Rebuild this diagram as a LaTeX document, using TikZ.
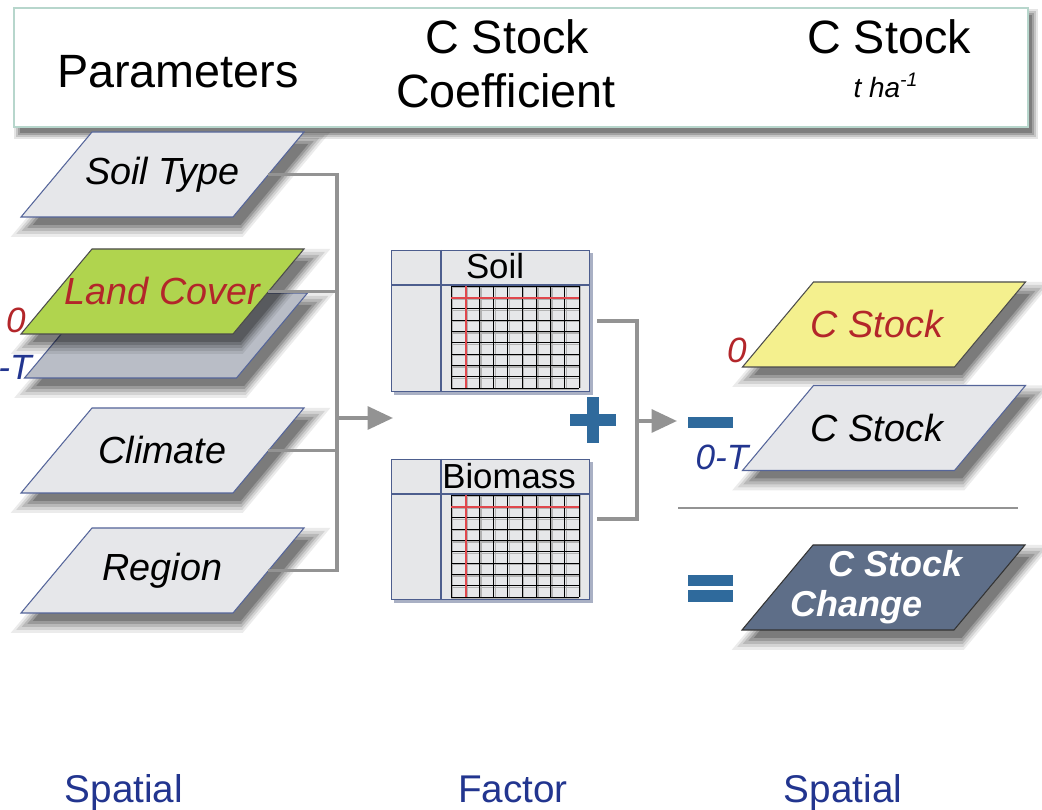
\documentclass[tikz,border=0pt]{standalone}
\usepackage{fontspec}
\setmainfont{Liberation Sans}
\usetikzlibrary{arrows.meta}

\definecolor{hdrborder}{HTML}{B7D6CC}
\definecolor{conngray}{HTML}{939393}
\definecolor{slabgray}{HTML}{E6E7EA}
\definecolor{slabedge}{HTML}{55659A}
\definecolor{backgray}{HTML}{B9BDC6}
\definecolor{landgreen}{HTML}{B0D44E}
\definecolor{paleyellow}{HTML}{F4F08E}
\definecolor{slate}{HTML}{5E6E88}
\definecolor{textred}{HTML}{B3262A}
\definecolor{textblue}{HTML}{22358F}
\definecolor{signblue}{HTML}{2F6A9C}
\definecolor{tabfill}{HTML}{E6E7E9}
\definecolor{tabedge}{HTML}{4D5E8E}
\definecolor{tabshade}{HTML}{A9B0C4}
\definecolor{gridred}{HTML}{E0474C}

\tikzset{
  conn/.style={draw=conngray, line width=2.2pt},
  tip/.style={-{Triangle[length=14.5pt,width=13pt]}},
  slabtext/.style={minimum width=120.2pt, minimum height=48.2pt, inner sep=0pt,
      font=\fontsize{21.5}{24}\selectfont\itshape},
  greyslab/.style={fill=slabgray, draw=slabedge, line width=0.6pt},
  hdr/.style={font=\fontsize{26.6}{31}\selectfont, inner sep=0pt, anchor=base},
  foot/.style={font=\fontsize{22}{26}\selectfont, text=textblue, inner sep=0pt, anchor=base},
  tag/.style={font=\fontsize{20}{24}\selectfont\itshape, inner sep=0pt},
  tabbox/.style={draw=tabedge, fill=tabfill, line width=0.7pt, minimum width=112.8pt,
      inner sep=0pt},
  tabline/.style={draw=tabedge, line width=0.7pt},
  tabhead/.style={font=\fontsize{19.8}{22}\selectfont, inner sep=0pt},
  gridsh/.style={draw=black!30, line width=0.8pt},
  gridln/.style={draw=black, line width=0.55pt},
  gridrl/.style={draw=gridred, line width=1.1pt},
  sign/.style={fill=signblue}
}

% soft drop shadow under a parallelogram centred at (#1,#2)
\newcommand\pshadow[2]{%
  \foreach \d/\op in {10/0.08,7/0.10,4/0.13,1/0.16,-2/0.20}{
    \pgfmathsetmacro\hw{106+\d}%
    \pgfmathsetmacro\hh{42.5+\d}%
    \pgfmathsetmacro\hs{35.5*(42.5+\d)/42.5}%
    \fill[black, opacity=\op] ({#1+8-\hw+\hs},{#2+10-\hh}) -- ({#1+8+\hw+\hs},{#2+10-\hh})
      -- ({#1+8+\hw-\hs},{#2+10+\hh}) -- ({#1+8-\hw-\hs},{#2+10+\hh}) -- cycle;}}

% one parallelogram layer: name, centre x, centre y, shape style, text style, text
\newcommand\slab[6]{%
  \pshadow{#2}{#3}
  \path[#4] (#2-70.5,#3-42.5) -- (#2+141.5,#3-42.5) -- (#2+70.5,#3+42.5)
    -- (#2-141.5,#3+42.5) -- cycle;
  \node[slabtext,#5] (#1) at (#2,#3) {#6};}

% cell raster inside a coefficient table, top edge at y = #1
\newcommand\cellgrid[1]{%
  \foreach \i in {0,...,9}{
    \draw[gridsh] ({451+\i*14.222+1.6},#1) -- ({451+\i*14.222+1.6},#1+102);
    \draw[gridsh] (451,{#1+\i*11.333+1.6}) -- (579,{#1+\i*11.333+1.6});}
  \foreach \i in {0,...,9}{
    \draw[gridln] ({451+\i*14.222},#1) -- ++(0,102);
    \draw[gridln] (451,{#1+\i*11.333}) -- ++(128,0);}
  \draw[gridrl] (466,#1) -- ++(0,102);
  \draw[gridrl] (451,#1+11.8) -- ++(128,0);}

\begin{document}
\begin{tikzpicture}[x=0.02cm, y=-0.02cm]
\useasboundingbox (0,0) rectangle (1042,810);
\clip (0,0) rectangle (1042,810);

% header band with its shadow
\foreach \d/\op in {5/0.10,3/0.14,1/0.18,-1/0.22}{
  \fill[black, opacity=\op] (19-\d,14-\d) rectangle (1033+\d,134+\d);}
\path[fill=white, draw=hdrborder, line width=1.2pt] (14,8) rectangle (1028,127);
\node[hdr] (hpar) at (178,88) {Parameters};
\node[hdr] (hcs) at (507,54) {C Stock};
\node[hdr] (hcoef) at (506,108) {Coefficient};
\node[hdr] (hcs2) at (889,54) {C Stock};
\node[font=\fontsize{15.9}{18}\selectfont\itshape, inner sep=0pt, anchor=base]
  (hunit) at (886,98) {t ha\textsuperscript{-1}};

% input parameter layers (the grey sheet is the later land cover state)
\pshadow{166}{335.5}
\path[fill=backgray, draw=slabedge, line width=0.6pt]
  (166-70.5,335.5-42.5) -- (166+141.5,335.5-42.5) -- (166+70.5,335.5+42.5)
  -- (166-141.5,335.5+42.5) -- cycle;
\slab{st}{162.5}{174.5}{greyslab}{}{Soil Type}
\slab{lc}{162.5}{291.5}{fill=landgreen, draw=black!70, line width=0.6pt}{text=textred}{Land Cover}
\slab{cl}{162.5}{450.5}{greyslab}{}{Climate}
\slab{rg}{162.5}{570.5}{greyslab}{}{Region}
\node[tag, text=textred] (lc0) at (16,320) {0};
\node[tag, text=textblue, anchor=east] (lct) at (32,367) {0-T};

% left collector and arrow
\coordinate (busL) at (337,418);
\coordinate (tipL) at (393,418);
\draw[conn] (st.east) -| (busL |- rg.east) -- (rg.east);
\draw[conn] (lc.east) -- (lc.east -| busL);
\draw[conn] (cl.east) -- (cl.east -| busL);
\draw[conn, tip] (busL) -- (tipL);

% coefficient tables
\fill[tabshade] (394,253) rectangle (593,395);
\node[tabbox, minimum height=80.5pt] (soil) at (490.5,321) {};
\draw[tabline] (391,285) -- (590,285);
\draw[tabline] (441,250) -- (441,392);
\cellgrid{286}
\node[tabhead] (soilhd) at (495,266) {Soil};

\fill[tabshade] (394,462) rectangle (593,603);
\node[tabbox, minimum height=79.9pt] (bio) at (490.5,529.5) {};
\draw[tabline] (391,494) -- (590,494);
\draw[tabline] (441,459) -- (441,600);
\cellgrid{495}
\node[tabhead] (biohd) at (509,476) {Biomass};

% plus sign
\fill[sign] (570,414) rectangle (616,426);
\fill[sign] (587,397) rectangle (599,443);

% right collector and arrow
\coordinate (busR) at (637,421);
\coordinate (tipR) at (677,421);
\coordinate (soilout) at ([xshift=4pt]soil.east);
\coordinate (bioout) at ([xshift=4pt,yshift=6pt]bio.east);
\draw[conn] (soilout) -| (busR |- bioout) -- (bioout);
\draw[conn, tip] (busR) -- (tipR);

% carbon stock layers
\slab{cs0}{884}{324.5}{fill=paleyellow, draw=black!70, line width=0.6pt}{text=textred, xshift=-4pt}{C Stock}
\slab{cst}{884}{428}{greyslab}{xshift=-4pt}{C Stock}
\node[tag, text=textred] (cs0lab) at (737,350) {0};
\node[tag, text=textblue] (cstlab) at (722,457) {0-T};
\fill[sign] (688,417) rectangle (733,428);

\draw[draw=conngray, line width=1.6pt] (678,508) -- (1018,508);

\fill[sign] (688,575) rectangle (733,586);
\fill[sign] (688,590) rectangle (733,602);
\slab{csc}{883.5}{587.5}{fill=slate, draw=black!80, line width=0.6pt}
  {text=white, align=left, font=\fontsize{20.5}{22.7}\selectfont\bfseries\itshape, xshift=-4pt}
  {\hspace*{1.05em}C Stock\\Change}

% column captions
\node[foot] (f1) at (124,803) {Spatial};
\node[foot] (f2) at (513,803) {Factor};
\node[foot] (f3) at (843,803) {Spatial};
\end{tikzpicture}
\end{document}
